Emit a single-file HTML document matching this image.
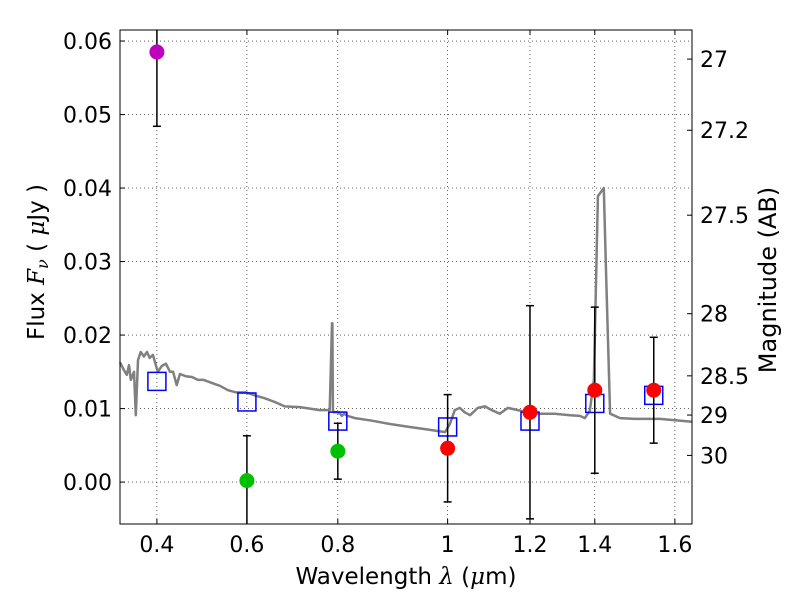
<!DOCTYPE html>
<html><head><meta charset="utf-8"><style>
body{margin:0;background:#fff;font-family:"DejaVu Sans","Liberation Sans",sans-serif}
svg text{font-family:"DejaVu Sans","Liberation Sans",sans-serif;fill:#000}
</style></head><body>
<svg id="chart" width="800" height="600" viewBox="0 0 800 600" xmlns="http://www.w3.org/2000/svg">
<g id="grid"></g>
<g id="sed"></g>
<g id="marks"></g>
<rect x="120" y="30" width="572" height="494" fill="none" stroke="#000" stroke-width="1"/>
<g id="axes"></g>
<text x="406" y="584" text-anchor="middle" font-size="23">Wavelength  <tspan font-style="italic" font-family="DejaVu Serif">λ</tspan> (<tspan font-style="italic" font-family="DejaVu Serif">μ</tspan>m)</text>
<text transform="translate(44,262) rotate(-90)" text-anchor="middle" font-size="23">Flux  <tspan font-style="italic" font-family="DejaVu Serif">F</tspan><tspan font-style="italic" font-family="DejaVu Serif" font-size="16" dy="4">ν</tspan><tspan dy="-4">  ( </tspan><tspan font-style="italic" font-family="DejaVu Serif">μ</tspan>Jy )</text>
<text transform="translate(776,280) rotate(-90)" text-anchor="middle" font-size="24">Magnitude (AB)</text>
</svg>
<script>
const xTickValues=[0.4,0.6,0.802,1.046,1.229,1.373,1.551];
const xTickLabels=["0.4","0.6","0.8","1","1.2","1.4","1.6"];
const yTickValues=[0,0.01,0.02,0.03,0.04,0.05,0.06];
const yTickLabels=["0.00","0.01","0.02","0.03","0.04","0.05","0.06"];
const magTickValues=[27,27.2,27.5,28,28.5,29,30];
const magTickLabels=["27","27.2","27.5","28","28.5","29","30"];
const sedLambda=[0.318,0.327,0.333,0.338,0.342,0.349,0.353,0.358,0.364,0.371,0.378,0.384,0.391,0.402,0.411,0.42,0.429,0.436,0.444,0.451,0.464,0.478,0.491,0.504,0.522,0.54,0.558,0.576,0.598,0.618,0.64,0.662,0.684,0.718,0.762,0.784,0.789,0.79,0.791,0.793,0.802,0.807,0.811,0.816,0.824,0.84,0.873,0.918,0.962,1.007,1.04,1.051,1.062,1.073,1.084,1.096,1.113,1.129,1.144,1.162,1.18,1.202,1.224,1.251,1.284,1.318,1.34,1.351,1.362,1.371,1.38,1.393,1.398,1.407,1.418,1.429,1.462,1.518,1.589];
const sedFlux=[0.0163,0.0152,0.0146,0.0159,0.0139,0.0150,0.0091,0.0166,0.0177,0.0171,0.0177,0.0169,0.0173,0.0150,0.0158,0.0161,0.0150,0.0150,0.0132,0.0147,0.0144,0.0143,0.0139,0.0139,0.0135,0.0131,0.0125,0.0122,0.0122,0.0118,0.0114,0.0109,0.0103,0.0102,0.0098,0.0098,0.0216,0.0216,0.0098,0.0095,0.0095,0.0093,0.0090,0.0093,0.0090,0.0087,0.0084,0.0079,0.0075,0.0071,0.0068,0.0079,0.0098,0.0101,0.0095,0.0091,0.0101,0.0103,0.0098,0.0093,0.0101,0.0098,0.0095,0.0093,0.0093,0.0091,0.0090,0.0087,0.0097,0.0139,0.0389,0.0400,0.0288,0.0093,0.0090,0.0087,0.0086,0.0086,0.0082];
const obsLambda=[0.4,0.6,0.802,1.046,1.229,1.373,1.504];
const obsFlux=[0.0585,0.0002,0.0042,0.0046,0.0095,0.0125,0.0125];
const obsErr=[0.0101,0.0061,0.0038,0.0073,0.0145,0.0113,0.0072];
const obsColors=["#bf00bf","#00c000","#00c000","#ff0000","#ff0000","#ff0000","#ff0000"];
const modelLambda=[0.4,0.6,0.802,1.046,1.229,1.373,1.504];
const modelFlux=[0.0137,0.0109,0.0083,0.0075,0.0083,0.0107,0.0118];

const NS="http://www.w3.org/2000/svg";
const X0=120,X1=692,Y0=30,Y1=524,LMIN=0.318,LMAX=1.589,FMIN=-0.0057,FMAX=0.0615;
const xs=l=>X0+(l-LMIN)/(LMAX-LMIN)*(X1-X0);
const ys=f=>Y1-(f-FMIN)/(FMAX-FMIN)*(Y1-Y0);
const magToFlux=m=>Math.pow(10,(23.9-m)/2.5);
function mk(tag,attrs,parent){const e=document.createElementNS(NS,tag);for(const k in attrs)e.setAttribute(k,attrs[k]);parent.appendChild(e);return e;}
const grid=document.getElementById('grid'),axes=document.getElementById('axes'),sed=document.getElementById('sed'),marks=document.getElementById('marks');
xTickValues.forEach((v,i)=>{const x=xs(v);
 const g=mk('line',{x1:x,x2:x,y1:Y0,y2:Y1,stroke:'#000','stroke-width':0.6,'stroke-dasharray':'1,3'},grid);
 
 
 mk('line',{x1:x,x2:x,y1:Y1,y2:Y1-5,stroke:'#000'},axes);
 mk('line',{x1:x,x2:x,y1:Y0,y2:Y0+5,stroke:'#000'},axes);
 const t=mk('text',{x:x,y:Y1+28,'text-anchor':'middle','font-size':22},axes);t.textContent=xTickLabels[i];
 
 
});
yTickValues.forEach((v,i)=>{const y=ys(v);
 const g=mk('line',{x1:X0,x2:X1,y1:y,y2:y,stroke:'#000','stroke-width':0.6,'stroke-dasharray':'1,3'},grid);
 
 
 mk('line',{x1:X0,x2:X0+5,y1:y,y2:y,stroke:'#000'},axes);
 const t=mk('text',{x:X0-8,y:y+8,'text-anchor':'end','font-size':22},axes);t.textContent=yTickLabels[i];
 
 
});
magTickValues.forEach((m,i)=>{const y=ys(magToFlux(m));
 mk('line',{x1:X1,x2:X1-5,y1:y,y2:y,stroke:'#000'},axes);
 const t=mk('text',{x:X1+8,y:y+8,'text-anchor':'start','font-size':22},axes);t.textContent=magTickLabels[i];
 
 
});
const d=sedLambda.map((l,i)=>(i?'L':'M')+xs(l).toFixed(1)+','+ys(sedFlux[i]).toFixed(1)).join('');
const p=mk('path',{d:d,fill:'none',stroke:'#808080','stroke-width':2.5,'stroke-linejoin':'round'},sed);


modelLambda.forEach((l,i)=>{const x=xs(l),y=ys(modelFlux[i]);
 const r=mk('rect',{x:x-9,y:y-9,width:18,height:18,fill:'none',stroke:'#0000ff','stroke-width':1.5},marks);
 
 
});
obsLambda.forEach((l,i)=>{const x=xs(l),y=ys(obsFlux[i]),yt=ys(obsFlux[i]+obsErr[i]),yb=ys(obsFlux[i]-obsErr[i]);
 const g=mk('g',{},marks);
 
 
 mk('line',{x1:x,x2:x,y1:Math.max(yt,Y0),y2:Math.min(yb,Y1),stroke:'#000','stroke-width':1.5},g);
 if(yt>=Y0)mk('line',{x1:x-4,x2:x+4,y1:yt,y2:yt,stroke:'#000','stroke-width':1.5},g);
 if(yb<=Y1)mk('line',{x1:x-4,x2:x+4,y1:yb,y2:yb,stroke:'#000','stroke-width':1.5},g);
 mk('circle',{cx:x,cy:y,r:7.5,fill:obsColors[i]},g);
});
</script>
</body></html>
